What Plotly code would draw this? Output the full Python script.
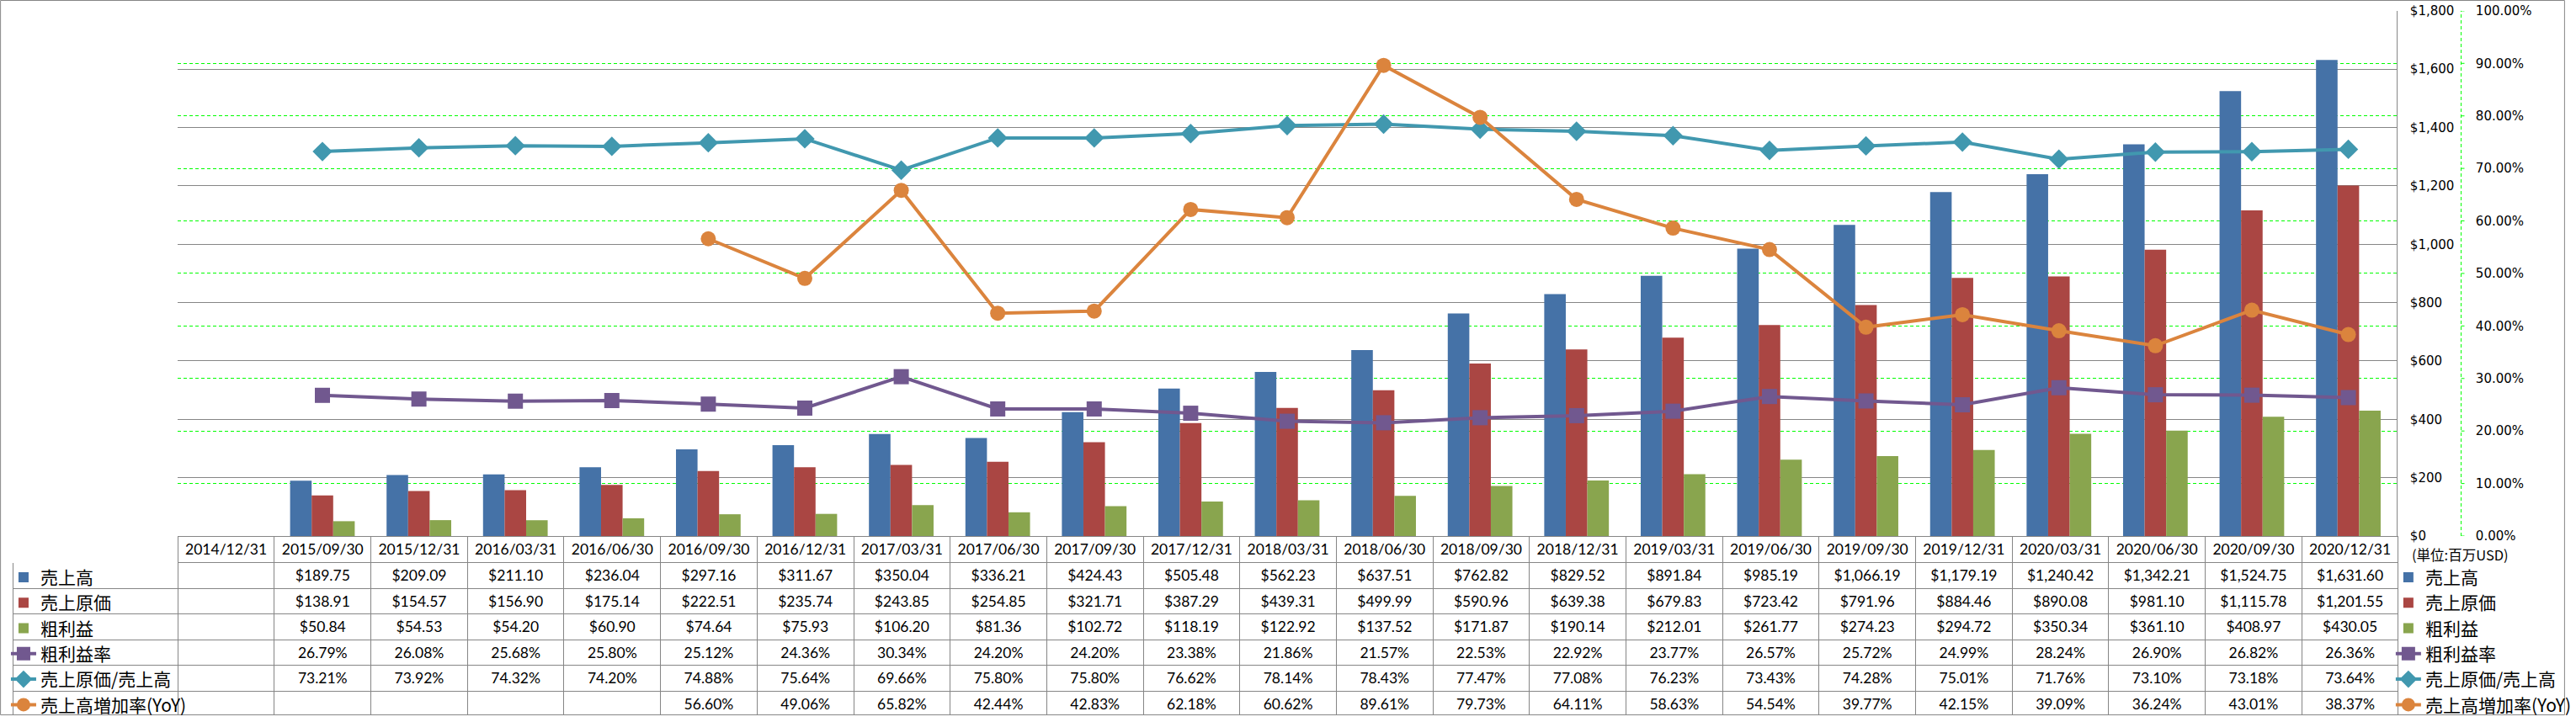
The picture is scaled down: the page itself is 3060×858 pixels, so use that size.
import plotly.graph_objects as go

# ---------------- data ----------------
dates = ["2014/12/31", "2015/09/30", "2015/12/31", "2016/03/31", "2016/06/30",
         "2016/09/30", "2016/12/31", "2017/03/31", "2017/06/30", "2017/09/30",
         "2017/12/31", "2018/03/31", "2018/06/30", "2018/09/30", "2018/12/31",
         "2019/03/31", "2019/06/30", "2019/09/30", "2019/12/31", "2020/03/31",
         "2020/06/30", "2020/09/30", "2020/12/31"]

revenue = [None, 189.75, 209.09, 211.10, 236.04, 297.16, 311.67, 350.04, 336.21,
           424.43, 505.48, 562.23, 637.51, 762.82, 829.52, 891.84, 985.19,
           1066.19, 1179.19, 1240.42, 1342.21, 1524.75, 1631.60]
cogs = [None, 138.91, 154.57, 156.90, 175.14, 222.51, 235.74, 243.85, 254.85,
        321.71, 387.29, 439.31, 499.99, 590.96, 639.38, 679.83, 723.42,
        791.96, 884.46, 890.08, 981.10, 1115.78, 1201.55]
gross = [None, 50.84, 54.53, 54.20, 60.90, 74.64, 75.93, 106.20, 81.36,
         102.72, 118.19, 122.92, 137.52, 171.87, 190.14, 212.01, 261.77,
         274.23, 294.72, 350.34, 361.10, 408.97, 430.05]
gross_margin = [None, 26.79, 26.08, 25.68, 25.80, 25.12, 24.36, 30.34, 24.20,
                24.20, 23.38, 21.86, 21.57, 22.53, 22.92, 23.77, 26.57,
                25.72, 24.99, 28.24, 26.90, 26.82, 26.36]
cogs_ratio = [None, 73.21, 73.92, 74.32, 74.20, 74.88, 75.64, 69.66, 75.80,
              75.80, 76.62, 78.14, 78.43, 77.47, 77.08, 76.23, 73.43,
              74.28, 75.01, 71.76, 73.10, 73.18, 73.64]
yoy = [None, None, None, None, None, 56.60, 49.06, 65.82, 42.44, 42.83, 62.18,
       60.62, 89.61, 79.73, 64.11, 58.63, 54.54, 39.77, 42.15, 39.09, 36.24,
       43.01, 38.37]

names = ["売上高", "売上原価", "粗利益", "粗利益率", "売上原価/売上高", "売上高増加率(YoY)"]
unit_label = "(単位:百万USD)"

# ---------------- styling ----------------
W, H = 3060, 858
PX0, PX1 = 212, 2859          # plot area (pixels)
PY0, PY1 = 13, 643
TX0 = 16                      # table left
TTOP = 644                    # table domain top
Y2X = 2936                    # secondary axis dashed line

C_REV, C_COGS, C_GROSS = "#4572A7", "#AA4643", "#89A54E"
C_GM, C_RATIO, C_YOY = "#71588F", "#4198AF", "#DB843D"
GRID = "#868686"
CJK = "Noto Sans CJK JP"
NUMF = "Lato, sans-serif"

def fx(px):
    return px / W

def fy(py):
    return 1 - py / H

fig = go.Figure()

bar_specs = [(names[0], revenue, C_REV, "a"), (names[1], cogs, C_COGS, "b"),
             (names[2], gross, C_GROSS, "c")]
line_specs = [(names[3], gross_margin, C_GM, "square", 18),
              (names[4], cogs_ratio, C_RATIO, "diamond", 18),
              (names[5], yoy, C_YOY, "circle", 18)]

def money(v):
    return "" if v is None else "${:,.2f}".format(v)

def pct(v):
    return "" if v is None else "{:.2f}%".format(v)

series_cols = [revenue, cogs, gross, gross_margin, cogs_ratio, yoy]
fmts = [money, money, money, pct, pct, pct]
columns = [[""] * 6]
for i in range(len(dates)):
    columns.append([f(s[i]) for s, f in zip(series_cols, fmts)])

ncol = len(dates)
cat_w = (PX1 - PX0) / ncol
fig.add_trace(go.Table(
    domain=dict(x=[fx(TX0), fx(PX1 + 3)], y=[0, fy(TTOP)]),
    columnwidth=[PX0 - TX0] + [cat_w] * ncol,
    header=dict(values=[""] + dates, height=31, align="center",
                fill_color="white",
                line=dict(color=["white"] + [GRID] * ncol, width=1),
                font=dict(family=NUMF, size=17.5, color="black")),
    cells=dict(values=columns, height=30.5, align="center",
               fill_color="white", line=dict(color=GRID, width=1),
               font=dict(family=NUMF, size=17.5, color="black")),
))

for nm, vals, col, grp in bar_specs:
    fig.add_trace(go.Bar(x=dates, y=vals, name=nm, marker_color=col,
                         marker_line_width=0, offsetgroup=grp, legend="legend"))
for nm, vals, col, sym, sz in line_specs:
    fig.add_trace(go.Scatter(x=dates, y=vals, name=nm, yaxis="y2",
                             mode="lines+markers",
                             line=dict(color=col, width=4),
                             marker=dict(symbol=sym, size=sz, color=col),
                             legend="legend"))
# legend keys shown in the table's first column (no data of their own)
for nm, vals, col, grp in bar_specs:
    fig.add_trace(go.Bar(x=[None], y=[None], name=nm, marker_color=col,
                         offsetgroup=grp, legend="legend2", hoverinfo="skip"))
for nm, vals, col, sym, sz in line_specs:
    fig.add_trace(go.Scatter(x=[None], y=[None], name=nm, yaxis="y2",
                             mode="lines+markers",
                             line=dict(color=col, width=4),
                             marker=dict(symbol=sym, size=sz, color=col),
                             legend="legend2", hoverinfo="skip"))

legend_common = dict(font=dict(family=CJK, size=21, color="black"),
                     bgcolor="rgba(0,0,0,0)", borderwidth=0,
                     xanchor="left", yanchor="top", traceorder="normal",
                     tracegroupgap=0)

fig.update_layout(
    width=W, height=H, template="none",
    paper_bgcolor="white", plot_bgcolor="white",
    margin=dict(l=0, r=0, t=0, b=0, pad=0),
    barmode="group", bargap=0.33, bargroupgap=0,
    showlegend=True,
    legend=dict(x=fx(2853), y=fy(672), **legend_common),
    legend2=dict(x=fx(8), y=fy(672), **legend_common),
    xaxis=dict(domain=[fx(PX0), fx(PX1)], type="category",
               categoryorder="array", categoryarray=dates,
               range=[-0.5, ncol - 0.5], showticklabels=False, ticks="",
               showgrid=False, showline=True, linecolor=GRID, linewidth=1,
               zeroline=False, automargin=False),
    yaxis=dict(domain=[fy(PY1), fy(PY0)], range=[0, 1800], dtick=200,
               tickprefix="$", tickformat=",d", side="right",
               showgrid=True, gridcolor=GRID, gridwidth=1,
               showline=True, linecolor=GRID, linewidth=1,
               ticks="", ticklabelstandoff=12, zeroline=False,
               tickfont=dict(family="DejaVu Sans", size=15, color="black"),
               automargin=False),
    yaxis2=dict(overlaying="y", side="right", anchor="x", range=[0, 100],
                dtick=10, tickformat=".2f", ticksuffix="%",
                showgrid=True, gridcolor="#00FF00", gridwidth=1,
                griddash="4px,3px", showline=False, ticks="",
                ticklabelstandoff=93, zeroline=False,
                tickfont=dict(family="DejaVu Sans", size=15, color="black"),
                automargin=False),
)

# secondary axis dashed line and its small tick marks
fig.add_shape(type="line", xref="paper", yref="paper",
              x0=fx(Y2X), x1=fx(Y2X), y0=fy(PY1), y1=fy(PY0),
              line=dict(color="#00FF00", width=1, dash="4px,3px"))
for v in range(0, 101, 10):
    fig.add_shape(type="line", xref="paper", yref="y2",
                  x0=fx(Y2X), x1=fx(Y2X + 4), y0=v, y1=v,
                  line=dict(color="#00FF00", width=1))

# outer border
fig.add_shape(type="rect", xref="paper", yref="paper", x0=0.0002, x1=0.9998,
              y0=0.0006, y1=0.9994, line=dict(color=GRID, width=1))

fig.add_annotation(text=unit_label, xref="paper", yref="paper",
                   x=fx(2875), y=fy(665), xanchor="left", yanchor="middle",
                   showarrow=False, font=dict(family=CJK, size=16.5, color="black"))

fig.write_html("out.html", config={"displayModeBar": False},
               post_script="document.body.style.margin='0';")
